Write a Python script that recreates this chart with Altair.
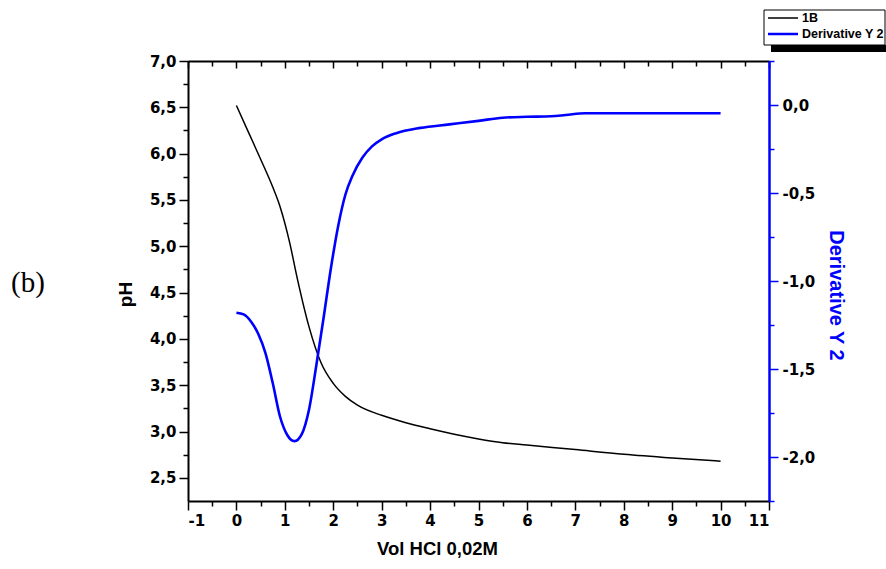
import altair as alt
import pandas as pd

# ---- data ----
VOL_PH = [0, 0.25, 0.5, 0.75, 0.9, 1.1, 1.25, 1.5, 1.75, 2.0, 2.25, 2.5, 3.0, 3.5, 4.0, 4.5, 5, 5.5, 6, 7, 8, 9, 10]
PH = [6.52, 6.23, 5.94, 5.64, 5.43, 5.04, 4.67, 4.13, 3.74, 3.52, 3.38, 3.285, 3.175, 3.095, 3.03, 2.97, 2.92,
      2.88, 2.855, 2.805, 2.755, 2.715, 2.68]

VOL_D = [0, 0.15, 0.3, 0.45, 0.6, 0.75, 0.9, 1.05, 1.2, 1.35, 1.5, 1.65, 1.8, 1.95, 2.1, 2.25,
         2.4, 2.6, 2.8, 3.0, 3.3, 3.8, 4.4, 5.0, 5.5, 6.0, 6.5, 6.8, 7.2, 8, 9, 10]
DERIV = [-1.18, -1.19, -1.23, -1.30, -1.41, -1.58, -1.77, -1.875, -1.91, -1.87, -1.73, -1.48, -1.21, -0.93,
         -0.69, -0.51, -0.40, -0.30, -0.235, -0.195, -0.16, -0.13, -0.11, -0.09, -0.072, -0.067, -0.064,
         -0.057, -0.047, -0.047, -0.047, -0.047]

SERIES = ["1B", "Derivative Y 2"]
X_TICKS = list(range(-1, 12))
X_MINOR = [v + 0.5 for v in range(-1, 11)]
YL_TICKS = [2.5, 3.0, 3.5, 4.0, 4.5, 5.0, 5.5, 6.0, 6.5, 7.0]
YL_MINOR = [2.75, 3.25, 3.75, 4.25, 4.75, 5.25, 5.75, 6.25, 6.75]
YR_TICKS = [-2.0, -1.5, -1.0, -0.5, 0.0]
YR_MINOR = [-2.25, -1.75, -1.25, -0.75, -0.25, 0.25]

BLACK = "#000000"
BLUE = "#0000ff"
W, H = 581, 440

df_ph = pd.DataFrame({"vol": VOL_PH, "pH": PH})
df_d = pd.DataFrame({"vol": VOL_D, "deriv": DERIV})

xs = alt.Scale(domain=[-1, 11], nice=False, zero=False)
yls = alt.Scale(domain=[2.25, 7.0], nice=False, zero=False)
yrs = alt.Scale(domain=[-2.25, 0.25], nice=False, zero=False)

LBL = dict(labelFont="DejaVu Sans", labelFontWeight="bold", labelFontSize=15, labelColor=BLACK)
TTL = dict(titleFont="Liberation Sans", titleFontWeight="bold")

x_main = alt.Axis(orient="bottom", values=X_TICKS, labelExpr="(datum.value < 0 ? '-' : '') + abs(datum.value)",
                  tickSize=9, tickWidth=1.5, tickColor=BLACK, domainColor=BLACK, domainWidth=2, grid=False,
                  labelPadding=3, title="Vol HCl 0,02M", titleColor=BLACK, titlePadding=11,
                  titleFontSize=18.5, titleX=249, **LBL, **TTL)
yl_main = alt.Axis(orient="left", values=YL_TICKS, labelExpr="replace(format(datum.value, '.1f'), '.', ',')",
                   tickSize=9, tickWidth=1.5, tickColor=BLACK, domainColor=BLACK, domainWidth=2, grid=False,
                   labelPadding=3, title="pH", titleColor=BLACK, titlePadding=14, titleFontSize=19,
                   titleY=233, **LBL, **TTL)

ph_line = alt.Chart(df_ph).mark_line(color=BLACK, strokeWidth=1.5, interpolate="monotone").encode(
    x=alt.X("vol:Q", scale=xs, axis=x_main),
    y=alt.Y("pH:Q", scale=yls, axis=yl_main),
)

yr_main = alt.Axis(orient="right", values=YR_TICKS,
                   labelExpr="(datum.value < -0.001 ? '-' : '') + replace(format(abs(datum.value), '.1f'), '.', ',')",
                   tickSize=9, tickWidth=1.5, tickColor=BLUE, domainColor=BLUE, domainWidth=2.5, grid=False,
                   labelPadding=4, title="Derivative Y 2", titleColor=BLUE, titlePadding=11, titleFontSize=20,
                   titleY=234, **LBL, **TTL)

d_line = alt.Chart(df_d).mark_line(color=BLUE, strokeWidth=2.6, interpolate="monotone").encode(
    x=alt.X("vol:Q", scale=xs, axis=None),
    y=alt.Y("deriv:Q", scale=yrs, axis=yr_main),
)

# minor ticks bottom + left
minor_bl = alt.Chart(df_ph).mark_line(opacity=0).encode(
    x=alt.X("vol:Q", scale=xs, axis=alt.Axis(orient="bottom", values=X_MINOR, labels=False, domain=False,
                                             tickSize=5, tickWidth=1.5, tickColor=BLACK, grid=False, title=None)),
    y=alt.Y("pH:Q", scale=yls, axis=alt.Axis(orient="left", values=YL_MINOR, labels=False, domain=False,
                                             tickSize=5, tickWidth=1.5, tickColor=BLACK, grid=False, title=None)),
)

# top mirror (inward ticks) + right minor ticks
top_major = alt.Chart(df_d).mark_line(opacity=0).encode(
    x=alt.X("vol:Q", scale=xs, axis=alt.Axis(orient="bottom", offset=-H, values=X_TICKS, labels=False,
                                             domain=True, domainColor=BLACK, domainWidth=2,
                                             tickSize=7, tickWidth=1.5, tickColor=BLACK, grid=False, title=None)),
    y=alt.Y("deriv:Q", scale=yrs, axis=alt.Axis(orient="right", values=YR_MINOR, labels=False, domain=False,
                                                tickSize=5, tickWidth=1.5, tickColor=BLUE, grid=False, title=None)),
)

top_minor = alt.Chart(df_d).mark_line(opacity=0).encode(
    x=alt.X("vol:Q", scale=xs, axis=alt.Axis(orient="bottom", offset=-H, values=X_MINOR, labels=False,
                                             domain=False, tickSize=5, tickWidth=1.5, tickColor=BLACK,
                                             grid=False, title=None)),
    y=alt.Y("deriv:Q", scale=yrs, axis=None),
)

one = alt.Data(values=[{"k": 1}])

# legend box with shadow (outside plot area, top right)
shadow = alt.Chart(one).mark_rect(fill=BLACK).encode(
    x=alt.value(583), x2=alt.value(698), y=alt.value(-16), y2=alt.value(-9))
box = alt.Chart(one).mark_rect(fill="white", stroke=BLACK, strokeWidth=1).encode(
    x=alt.value(576), x2=alt.value(697), y=alt.value(-51), y2=alt.value(-16))
leg_l1 = alt.Chart(one).mark_rule(color=BLACK, strokeWidth=1.5).encode(
    x=alt.value(580), x2=alt.value(610), y=alt.value(-43))
leg_l2 = alt.Chart(one).mark_rule(color=BLUE, strokeWidth=2.5).encode(
    x=alt.value(580), x2=alt.value(610), y=alt.value(-27))
leg_t1 = alt.Chart(one).mark_text(align="left", baseline="middle", font="Liberation Sans", fontWeight="bold",
                                  fontSize=12.5, color=BLACK).encode(
    x=alt.value(614), y=alt.value(-43), text=alt.value(SERIES[0]))
leg_t2 = alt.Chart(one).mark_text(align="left", baseline="middle", font="Liberation Sans", fontWeight="bold",
                                  fontSize=12.5, color=BLACK).encode(
    x=alt.value(614), y=alt.value(-27), text=alt.value(SERIES[1]))

panel_label = alt.Chart(one).mark_text(align="center", baseline="middle", font="Liberation Serif",
                                       fontSize=29, color=BLACK).encode(
    x=alt.value(-160), y=alt.value(222), text=alt.value("(b)"))

chart = alt.layer(
    ph_line, d_line, minor_bl, top_major, top_minor,
    shadow, box, leg_l1, leg_l2, leg_t1, leg_t2, panel_label,
).resolve_scale(y="independent").resolve_axis(x="independent", y="independent").properties(
    width=W, height=H,
    autosize=alt.AutoSizeParams(type="none"),
    padding={"left": 188, "top": 61, "right": 117, "bottom": 68},
    background="white",
).configure_view(stroke=None)

chart.save("out.html", embed_options={"renderer": "svg", "actions": False})
